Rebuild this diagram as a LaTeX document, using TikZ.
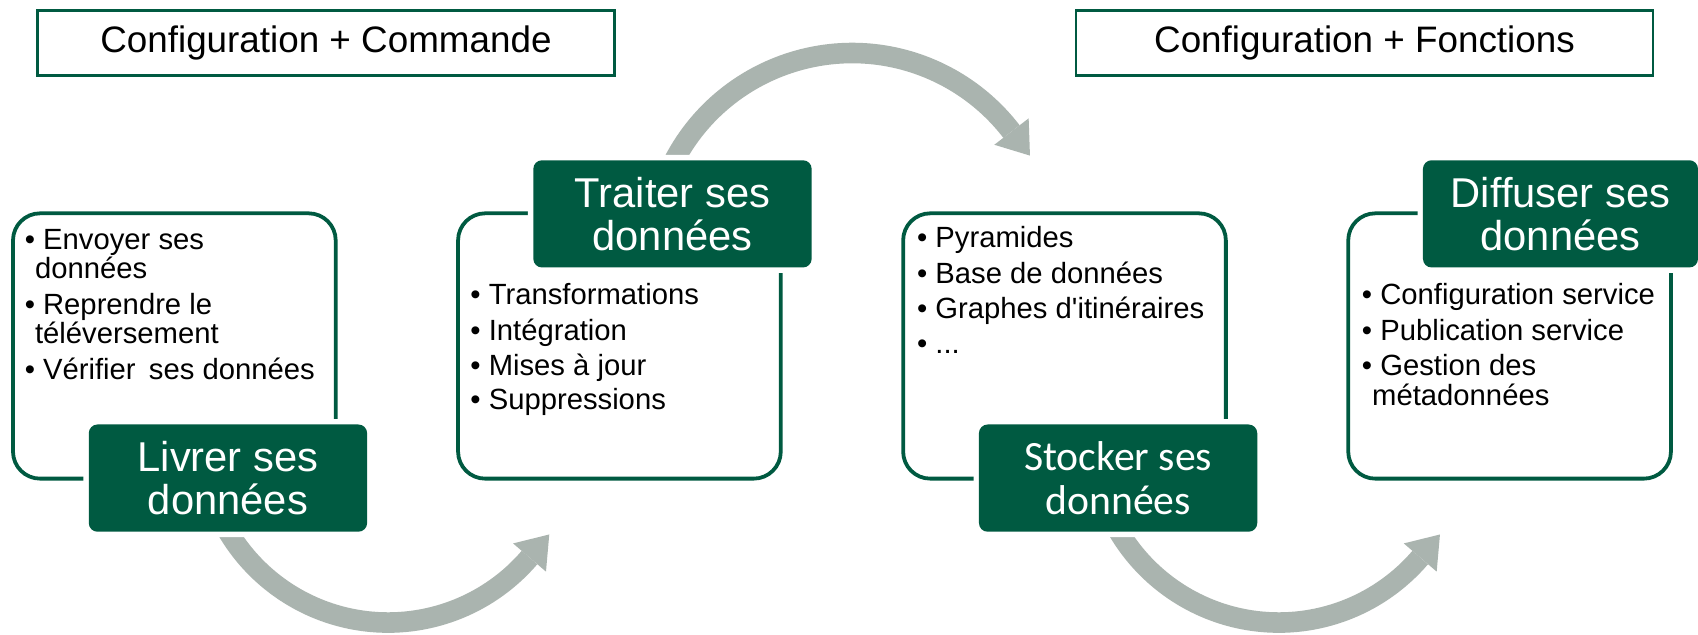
\documentclass[tikz,border=0pt]{standalone}
\usepackage{fontspec}
\setmainfont{Liberation Sans}
\newfontfamily\calib{Carlito}
\usetikzlibrary{calc}
\definecolor{dkgreen}{RGB}{0,90,65}
\definecolor{arrgray}{RGB}{170,180,175}
\newcommand{\bul}{\textbullet\hspace{7.5pt}}
\newcommand{\ind}{\phantom{\textbullet}}
\begin{document}
\begin{tikzpicture}[x=1pt,y=1pt,
  hdr/.style={draw=dkgreen, line width=2.5pt, minimum width=533pt, minimum height=60pt, inner sep=0pt, font=\fontsize{34}{40}\selectfont},
  outl/.style={draw=dkgreen, line width=3.5pt, rounded corners=25pt, minimum width=298pt, minimum height=245pt, inner sep=0pt},
  greenbox/.style={fill=dkgreen, rounded corners=8pt, text=white, align=center, inner sep=0pt, minimum width=257pt, minimum height=99pt, font=\fontsize{38.5}{40}\selectfont, preaction={draw=white, line width=10pt}},
  listline/.style={anchor=base west, inner sep=0pt, font=\fontsize{27}{32}\selectfont},
  arrowbody/.style={draw=arrgray, line width=19pt},
  arrhead/.style={fill=arrgray}]
\fill[white] (0,0) rectangle (1568,586);
\useasboundingbox (0,0) rectangle (1568,586);

% arrows
\coordinate (c1) at (358.4,183.1);
\coordinate (p1) at ($(c1)+(319.4:172)$);
\draw[arrowbody] ($(c1)+(205:172)$) arc[start angle=205, end angle=319.4, radius=172];
\fill[arrhead] ($(p1)+(49.4:28)$) -- ($(p1)+(139.4:20)$) -- ($(p1)+(-40.6:20)$) -- cycle;

\coordinate (c2) at (786.9,351.4);
\coordinate (p2) at ($(c2)+(37.55:185.6)$);
\draw[arrowbody] ($(c2)+(155:185.6)$) arc[start angle=155, end angle=37.55, radius=185.6];
\fill[arrhead] ($(p2)+(-52.45:28)$) -- ($(p2)+(37.55:20)$) -- ($(p2)+(217.55:20)$) -- cycle;

\coordinate (c3) at (1180.9,183.1);
\coordinate (p3) at ($(c3)+(319.4:172)$);
\draw[arrowbody] ($(c3)+(205:172)$) arc[start angle=205, end angle=319.4, radius=172];
\fill[arrhead] ($(p3)+(49.4:28)$) -- ($(p3)+(139.4:20)$) -- ($(p3)+(-40.6:20)$) -- cycle;

% headers
\node[hdr] (h1) at (301,546) {Configuration + Commande};
\node[hdr] (h2) at (1260,546) {Configuration + Fonctions};

% outline boxes
\node[outl] (o1) at (161,266.5) {};
\node[outl] (o2) at (572,266.5) {};
\node[outl] (o3) at (983,266.5) {};
\node[outl] (o4) at (1394,266.5) {};

% green title boxes
\node[greenbox] (g1) at (210.5,144.5) {Livrer ses\\données};
\node[greenbox] (g2) at (621,388.5) {Traiter ses\\données};
\node[greenbox, font=\fontsize{38.5}{40}\calib\selectfont] (g3) at (1032.5,144.5) {Stocker ses\\données};
\node[greenbox, minimum width=254pt] (g4) at (1441,388.5) {Diffuser ses\\données};

% lists
\node[listline] (a1) at (22.7,355.8) {\bul Envoyer ses};
\node[listline] (a2) at (22.7,329) {\ind données};
\node[listline] (a3) at (22.7,296) {\bul Reprendre le};
\node[listline] (a4) at (22.7,268.4) {\ind téléversement};
\node[listline] (a5) at (22.7,235.7) {\bul Vérifier\hspace{0.45em}ses données};

\node[listline] (b1) at (434.2,304.4) {\bul Transformations};
\node[listline] (b2) at (434.2,272) {\bul Intégration};
\node[listline] (b3) at (434.2,239.7) {\bul Mises à jour};
\node[listline] (b4) at (434.2,207.4) {\bul Suppressions};

\node[listline] (s1) at (846.7,357) {\bul Pyramides};
\node[listline] (s2) at (846.7,324.5) {\bul Base de données};
\node[listline] (s3) at (846.7,292) {\bul Graphes d\textquotesingle itinéraires};
\node[listline] (s4) at (846.7,260) {\bul ...};

\node[listline] (d1) at (1257.5,304.4) {\bul Configuration service};
\node[listline] (d2) at (1257.5,272) {\bul Publication service};
\node[listline] (d3) at (1257.5,239.7) {\bul Gestion des};
\node[listline] (d4) at (1257.5,212) {\ind métadonnées};
\end{tikzpicture}
\end{document}
